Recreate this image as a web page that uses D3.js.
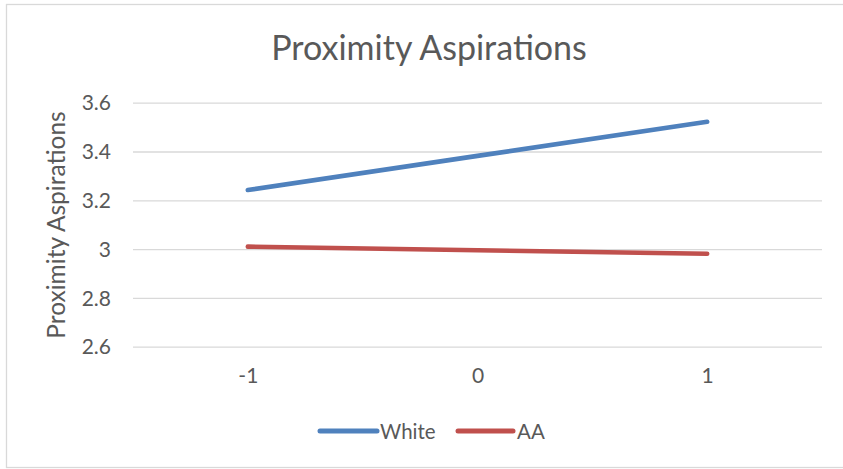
<!DOCTYPE html>
<html>
<head>
<meta charset="utf-8">
<script src="https://cdn.jsdelivr.net/npm/d3@7"></script>
<style>
  html, body { margin: 0; padding: 0; background: #fff; }
  svg { display: block; }
  text { font-family: Lato, "Open Sans", sans-serif; fill: #595959; }
</style>
</head>
<body>
<svg id="chart" width="843" height="469"></svg>
<script>
const categories = ["-1", "0", "1"];
const whiteValues = [3.242, 3.382, 3.522];
const aaValues = [3.010, 2.995, 2.981];
const yTickValues = [2.6, 2.8, 3.0, 3.2, 3.4, 3.6];
const seriesNames = ["White", "AA"];
const chartTitle = "Proximity Aspirations";
const yAxisTitle = "Proximity Aspirations";

const seriesColors = ["#4F81BD", "#C0504D"];
const series = [
  { name: seriesNames[0], values: whiteValues, color: seriesColors[0] },
  { name: seriesNames[1], values: aaValues, color: seriesColors[1] }
];

const svg = d3.select("#chart");
const W = 843, H = 469;
const plot = { left: 133, right: 822, top: 102.7, bottom: 346.7 };

// chart border
svg.append("rect")
  .attr("x", 6.5).attr("y", 4.5)
  .attr("width", W + 5).attr("height", 463)
  .attr("fill", "#fff")
  .attr("stroke", "#d9d9d9").attr("stroke-width", 1.3);

const x = d3.scalePoint().domain(categories).range([plot.left, plot.right]).padding(0.5);
const y = d3.scaleLinear().domain([2.6, 3.6]).range([plot.bottom, plot.top]);

// y axis with gridlines
const yAxis = d3.axisLeft(y)
  .tickValues(yTickValues)
  .tickSize(-(plot.right - plot.left))
  .tickPadding(22)
  .tickFormat(d => String(+d.toFixed(1)));

const gy = svg.append("g").attr("transform", `translate(${plot.left},0)`).call(yAxis);
gy.select(".domain").remove();
gy.selectAll(".tick line").attr("stroke", "#d9d9d9").attr("stroke-width", 1.3);
gy.selectAll(".tick text")
  .style("font-size", "21px").attr("fill", "#595959").attr("dy", "0.34em");

// x axis labels
const xAxis = d3.axisBottom(x).tickSize(0).tickPadding(0);
const gx = svg.append("g").attr("transform", `translate(0,${plot.bottom + 21})`).call(xAxis);
gx.select(".domain").remove();
gx.selectAll(".tick text")
  .style("font-size", "21px").attr("fill", "#595959").attr("dy", "0.71em");

// lines
const line = d3.line().x((d, i) => x(categories[i])).y(d => y(d));
series.forEach(s => {
  svg.append("path")
    .datum(s.values)
    .attr("d", line)
    .attr("fill", "none")
    .attr("stroke", s.color)
    .attr("stroke-width", 4.6)
    .attr("stroke-linecap", "round")
    .attr("stroke-linejoin", "round");
});

// title
svg.append("text")
  .attr("x", 429).attr("y", 59.5)
  .attr("text-anchor", "middle")
  .style("font-size", "34px")
  .text(chartTitle);

// y axis title
svg.append("text")
  .attr("transform", `translate(65,225) rotate(-90)`)
  .attr("text-anchor", "middle")
  .style("font-size", "24.5px")
  .text(yAxisTitle);

// legend
const legendItems = [
  { x1: 320, x2: 377, tx: 380 },
  { x1: 458, x2: 513, tx: 517 }
];
const lg = svg.append("g");
series.forEach((s, i) => {
  const L = legendItems[i];
  lg.append("line")
    .attr("x1", L.x1).attr("x2", L.x2)
    .attr("y1", 431).attr("y2", 431)
    .attr("stroke", s.color).attr("stroke-width", 5)
    .attr("stroke-linecap", "round");
  lg.append("text")
    .attr("x", L.tx).attr("y", 438.5)
    .style("font-size", "20.5px")
    .text(s.name);
});
</script>
</body>
</html>
